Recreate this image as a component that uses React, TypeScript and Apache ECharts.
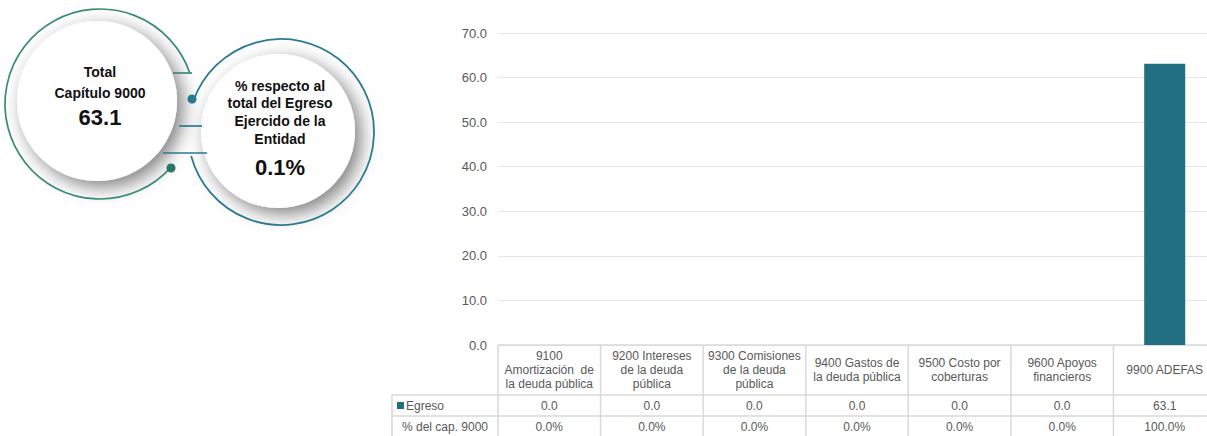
import React, { useEffect, useRef } from "react";
import * as echarts from "echarts";

const categories = [
  "9100\nAmortización  de\nla deuda pública",
  "9200 Intereses\nde la deuda\npública",
  "9300 Comisiones\nde la deuda\npública",
  "9400 Gastos de\nla deuda pública",
  "9500 Costo por\ncoberturas",
  "9600 Apoyos\nfinancieros",
  "9900 ADEFAS",
];
const egreso = [0.0, 0.0, 0.0, 0.0, 0.0, 0.0, 63.1];
const pctCap = [0.0, 0.0, 0.0, 0.0, 0.0, 0.0, 100.0];
const rowLabels = ["Egreso", "% del cap. 9000"];
const totalCap9000 = 63.1;
const pctEntidad = 0.1;
const yMin = 0;
const yMax = 70;
const yInterval = 10;

const BAR = "#226f84";
const GRID = "#d9d9d9";
const TXT = "#595959";
const FONT = "'Liberation Sans', Arial, sans-serif";

export default function App() {
  const ref = useRef<HTMLDivElement>(null);
  useEffect(() => {
    if (!ref.current) return;
    const chart = echarts.init(ref.current, undefined, { renderer: "svg" });
    const base: any = {
      animation: false,
      textStyle: { fontFamily: FONT },
      grid: { left: 498, top: 33, bottom: 91, right: 0, containLabel: false },
      xAxis: {
        type: "category",
        data: categories,
        axisLine: { show: false },
        axisTick: { show: false },
        axisLabel: {
          interval: 0,
          margin: 25,
          verticalAlign: "middle",
          lineHeight: 14,
          fontSize: 12,
          color: TXT,
          fontFamily: FONT,
        },
      },
      yAxis: {
        type: "value",
        min: yMin,
        max: yMax,
        interval: yInterval,
        axisLine: { show: false },
        axisTick: { show: false },
        splitLine: { lineStyle: { color: "#e6e6e6", width: 1 } },
        axisLabel: {
          margin: 11,
          fontSize: 13,
          color: TXT,
          fontFamily: FONT,
          formatter: (v: number) => v.toFixed(1),
        },
      },
      series: [
        {
          type: "bar",
          data: egreso,
          barWidth: "40%",
          itemStyle: { color: BAR },
        },
      ],
    };
    chart.setOption(base);

    const p0 = chart.convertToPixel({ gridIndex: 0 }, [0, 0]) as number[];
    const p1 = chart.convertToPixel({ gridIndex: 0 }, [1, 0]) as number[];
    const colW = p1[0] - p0[0];
    const tableTop = p0[1];
    const headBottom = tableTop + 50;
    const row1Bottom = headBottom + 21;
    const row2Bottom = row1Bottom + 21;
    const leftCol = 392;
    const firstX = p0[0] - colW / 2;
    const lastX = firstX + colW * categories.length;

    const els: any[] = [];
    const ln = (x1: number, y1: number, x2: number, y2: number, color = GRID, w = 1.5) =>
      els.push({ type: "line", shape: { x1, y1, x2, y2 }, style: { stroke: color, lineWidth: w }, silent: true });

    // table lines
    ln(firstX, tableTop, lastX, tableTop);
    ln(leftCol, headBottom, lastX, headBottom);
    ln(leftCol, row1Bottom, lastX, row1Bottom);
    ln(leftCol, headBottom, leftCol, row2Bottom + 5);
    for (let i = 0; i <= categories.length; i++) {
      const x = firstX + colW * i;
      ln(x, tableTop, x, row2Bottom + 5);
    }
    // row labels
    els.push({ type: "rect", shape: { x: 397, y: headBottom + 7, width: 7, height: 7 }, style: { fill: BAR } });
    els.push({
      type: "text",
      x: 406,
      y: (headBottom + row1Bottom) / 2,
      style: { text: rowLabels[0], fill: TXT, font: `12px ${FONT}`, verticalAlign: "middle", align: "left" },
    });
    els.push({
      type: "text",
      x: (leftCol + firstX) / 2,
      y: (row1Bottom + row2Bottom) / 2,
      style: { text: rowLabels[1], fill: TXT, font: `12px ${FONT}`, verticalAlign: "middle", align: "center" },
    });
    categories.forEach((_, i) => {
      const c = chart.convertToPixel({ gridIndex: 0 }, [i, 0]) as number[];
      els.push({
        type: "text",
        x: c[0],
        y: (headBottom + row1Bottom) / 2,
        style: { text: egreso[i].toFixed(1), fill: TXT, font: `12px ${FONT}`, verticalAlign: "middle", align: "center" },
      });
      els.push({
        type: "text",
        x: c[0],
        y: (row1Bottom + row2Bottom) / 2,
        style: { text: pctCap[i].toFixed(1) + "%", fill: TXT, font: `12px ${FONT}`, verticalAlign: "middle", align: "center" },
      });
    });

    // circles
    const GREEN = "#3a8a78";
    const BLUE = "#2b7a90";
    const deg = (d: number) => (d * Math.PI) / 180;
    els.push({
      type: "circle",
      shape: { cx: 97, cy: 101, r: 80 },
      style: { fill: "#ffffff", shadowBlur: 18, shadowColor: "rgba(0,0,0,0.5)", shadowOffsetX: 6, shadowOffsetY: 6 },
    });
    els.push({
      type: "arc",
      shape: { cx: 100, cy: 104, r: 95, startAngle: deg(42), endAngle: deg(341), clockwise: true },
      style: { stroke: GREEN, lineWidth: 1.7, fill: null },
    });
    ln(173, 73, 192, 73, GREEN, 1.7);
    els.push({
      type: "circle",
      shape: { cx: 278, cy: 131, r: 77 },
      style: { fill: "#ffffff", shadowBlur: 18, shadowColor: "rgba(0,0,0,0.5)", shadowOffsetX: 6, shadowOffsetY: 6 },
    });
    els.push({
      type: "arc",
      shape: { cx: 281, cy: 132, r: 93, startAngle: deg(200), endAngle: deg(525), clockwise: true },
      style: { stroke: BLUE, lineWidth: 1.8, fill: null },
    });
    ln(179, 126, 202, 126, BLUE, 1.7);
    ln(163, 153, 207, 153, BLUE, 1.7);
    els.push({ type: "circle", shape: { cx: 171, cy: 168, r: 4.5 }, style: { fill: "#2e7464" } });
    els.push({ type: "circle", shape: { cx: 192, cy: 99, r: 4.5 }, style: { fill: "#2a7a8f" } });

    const bt = (text: string, x: number, y: number, size: number) =>
      els.push({
        type: "text",
        x,
        y,
        style: { text, fill: "#111111", font: `bold ${size}px ${FONT}`, align: "center", verticalAlign: "middle" },
      });
    bt("Total", 100, 72, 14);
    bt("Capítulo 9000", 100, 93, 14);
    bt(totalCap9000.toFixed(1), 100, 117, 22);
    bt("% respecto al", 280, 86, 14);
    bt("total del Egreso", 280, 103, 14);
    bt("Ejercido de la", 280, 121, 14);
    bt("Entidad", 280, 139, 14);
    bt(pctEntidad.toFixed(1) + "%", 280, 167, 22);

    chart.setOption({ graphic: { elements: els } });
    return () => chart.dispose();
  }, []);
  return (
    <div style={{ position: "absolute", left: 0, top: 0, width: 1207, height: 436, overflow: "hidden" }}>
      <div ref={ref} style={{ position: "absolute", left: 0, top: 0, width: 1216, height: 436 }} />
    </div>
  );
}
